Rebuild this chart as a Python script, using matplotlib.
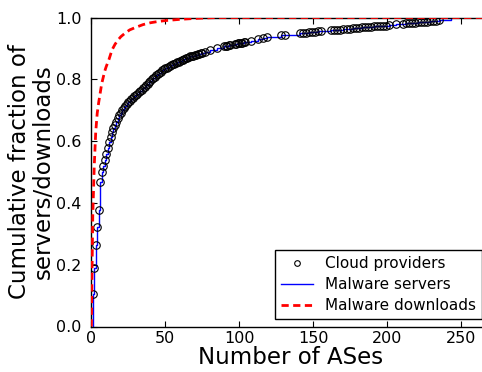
import matplotlib
matplotlib.use('Agg')
import matplotlib.pyplot as plt

# ---- data ----
cloud_x = [1, 2, 3, 4, 5, 6, 7, 8, 9, 10, 11, 12, 13, 14, 15, 16, 17, 18, 19, 20,
           21, 22, 23, 24, 25, 26, 27, 28, 29, 30, 31, 32, 33, 34, 35, 36, 37, 38, 39, 40,
           41, 42, 43, 44, 45, 46, 47, 48, 49, 50, 51, 52, 53, 54, 55, 56, 57, 58, 59, 60,
           61, 62, 63, 64, 65, 66, 67, 68, 69, 70, 71, 72, 73, 74, 75,
           77, 80, 85, 90, 91, 92, 93, 94, 97, 98, 99, 100, 101, 102, 103, 104,
           108, 113, 116, 119, 128, 131,
           141, 143, 145, 147, 149, 151, 153, 155,
           162, 164, 166, 168, 170, 173, 175, 177, 179, 181, 183, 185, 187, 189,
           191, 193, 195, 197, 199, 201, 206, 211, 213, 215, 217, 219, 221, 223,
           225, 227, 229, 231, 233, 235]
cloud_y = [0.105, 0.188, 0.264, 0.323, 0.377, 0.467, 0.501, 0.520, 0.539, 0.559,
           0.577, 0.598, 0.613, 0.628, 0.641, 0.652, 0.663, 0.674, 0.683, 0.692,
           0.700, 0.707, 0.714, 0.720, 0.725, 0.731, 0.736, 0.741, 0.745, 0.749,
           0.753, 0.758, 0.762, 0.766, 0.771, 0.775, 0.780, 0.785, 0.790, 0.795,
           0.800, 0.805, 0.809, 0.813, 0.817, 0.821, 0.825, 0.829, 0.832, 0.835,
           0.838, 0.841, 0.844, 0.846, 0.849, 0.851, 0.853, 0.855, 0.857, 0.859,
           0.862, 0.864, 0.866, 0.868, 0.870, 0.872, 0.874, 0.876, 0.877, 0.879,
           0.880, 0.882, 0.883, 0.885, 0.886,
           0.889, 0.894, 0.901, 0.907, 0.908, 0.909, 0.910, 0.911, 0.914, 0.915,
           0.916, 0.917, 0.918, 0.919, 0.920, 0.921,
           0.925, 0.930, 0.933, 0.936, 0.942, 0.944,
           0.949, 0.950, 0.951, 0.952, 0.953, 0.954, 0.955, 0.956,
           0.958, 0.959, 0.960, 0.961, 0.962, 0.963, 0.964, 0.965, 0.966, 0.967,
           0.968, 0.968, 0.969, 0.970,
           0.971, 0.972, 0.972, 0.973, 0.974, 0.975, 0.978, 0.980, 0.981, 0.982,
           0.983, 0.983, 0.984, 0.985,
           0.986, 0.987, 0.988, 0.989, 0.990, 0.991]

servers_x = [1] + cloud_x + [243]
servers_y = [0.0] + cloud_y + [1.0]

downloads_x = [0, 1, 2, 3, 4, 5, 6, 7, 8, 9, 10, 12, 14, 16, 18, 20, 23, 26, 30,
               35, 40, 45, 50, 60, 70, 85, 270]
downloads_y = [0.0, 0.36, 0.52, 0.63, 0.69, 0.725, 0.755, 0.785, 0.805, 0.825,
               0.84, 0.865, 0.895, 0.913, 0.927, 0.938, 0.95, 0.96, 0.968,
               0.977, 0.983, 0.987, 0.99, 0.994, 0.997, 1.0, 1.0]

x_ticks = [0, 50, 100, 150, 200, 250]
y_ticks = [0.0, 0.2, 0.4, 0.6, 0.8, 1.0]
x_label = 'Number of ASes'
y_label = 'Cumulative fraction of\nservers/downloads'

# ---- figure ----
W, H = 482, 372
fig = plt.figure(figsize=(W / 100, H / 100), dpi=100)
x0_px, scale = 91.3, 1.479
xmax = 270
ax = fig.add_axes([x0_px / W, (H - 326.5) / H, xmax * scale / W, 309 / H])

ax.plot(servers_x, servers_y, '-', color='#0000ff', lw=1.0,
        drawstyle='steps-post', label='Malware servers', zorder=2)
ax.plot(cloud_x, cloud_y, 'o', mfc='none', mec='black', ms=5.4, mew=0.8,
        label='Cloud providers', zorder=3)
ax.plot(downloads_x, downloads_y, '--', color='#ff0000', lw=2.0,
        dashes=(2.6, 1.6), label='Malware downloads', zorder=4)

ax.set_xlim(0, xmax)
ax.set_ylim(0, 1.0)
ax.set_xticks(x_ticks)
ax.set_yticks(y_ticks)
ax.set_yticklabels([f'{v:.1f}' for v in y_ticks])
ax.tick_params(direction='in', top=True, right=True, length=4, width=0.8,
               labelsize=11.5)
ax.tick_params(axis='x', pad=3)
ax.tick_params(axis='y', pad=7)
for s in ax.spines.values():
    s.set_linewidth(1.0)

ax.set_xlabel(x_label, fontsize=16.5, labelpad=0)
ax.set_ylabel(y_label, fontsize=16.5, linespacing=1.02, labelpad=1)

handles, labels = ax.get_legend_handles_labels()
order = [1, 0, 2]
leg = ax.legend([handles[i] for i in order], [labels[i] for i in order],
                loc='lower right', bbox_to_anchor=(481.7 / W, (H - 319.3) / H),
                bbox_transform=fig.transFigure, borderaxespad=0, numpoints=1,
                markerscale=0.75, fontsize=11, fancybox=False, framealpha=1,
                edgecolor='black', handlelength=2.1, handletextpad=0.75,
                borderpad=0.4, labelspacing=0.4)
leg.get_frame().set_linewidth(1.0)

fig.savefig('out.png', dpi=100)
